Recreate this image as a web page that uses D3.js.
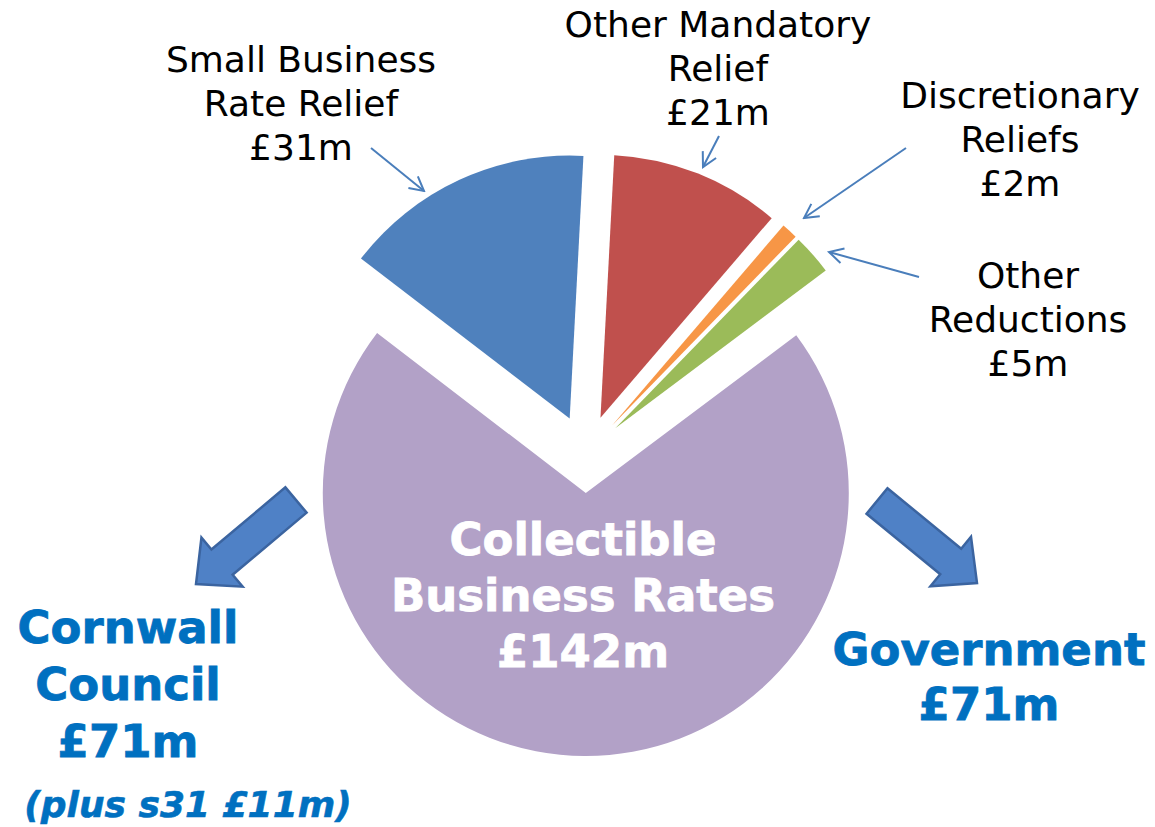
<!DOCTYPE html>
<html>
<head>
<meta charset="utf-8">
<script src="https://cdn.jsdelivr.net/npm/d3@7"></script>
<style>
html,body{margin:0;padding:0;background:#fff;}
svg{display:block;}
</style>
</head>
<body>
<svg id="chart" width="1155" height="827"></svg>
<script>
// ---- data ----
const categories = ["Other Mandatory Relief", "Discretionary Reliefs", "Other Reductions", "Collectible Business Rates", "Small Business Rate Relief"];
const values = [21, 2, 5, 142, 31];
const colors = ["#C0504D", "#F79646", "#9BBB59", "#B2A1C7", "#4F81BD"];
const labelLines = [
  ["Other Mandatory", "Relief", "£21m"],
  ["Discretionary", "Reliefs", "£2m"],
  ["Other", "Reductions", "£5m"],
  ["Collectible", "Business Rates", "£142m"],
  ["Small Business", "Rate Relief", "£31m"]
];
const splitNames = ["Cornwall Council", "Government"];
const splitValues = [71, 71];
const councilNote = "(plus s31 £11m)";

// ---- layout ----
const svg = d3.select("#chart");
const cx = 586, cy = 454, R = 263, explode = 39;
const deg = Math.PI / 180;
const start = 3 * deg;

const pie = d3.pie().sort(null).value(d => d).startAngle(start).endAngle(start + 2 * Math.PI);
const arcs = pie(values);
const arc = d3.arc().innerRadius(0).outerRadius(R);

const g = svg.append("g").attr("transform", `translate(${cx},${cy})`);
g.selectAll("path.slice").data(arcs).join("path")
  .attr("class", "slice")
  .attr("d", arc)
  .attr("fill", (d, i) => colors[i])
  .attr("transform", d => {
    const a = (d.startAngle + d.endAngle) / 2;
    return `translate(${explode * Math.sin(a)},${-explode * Math.cos(a)})`;
  });

// ---- annotation arrow marker ----
const defs = svg.append("defs");
defs.append("marker")
  .attr("id", "open")
  .attr("viewBox", "-16 -9 18 18")
  .attr("refX", 0).attr("refY", 0)
  .attr("markerWidth", 18).attr("markerHeight", 18)
  .attr("markerUnits", "userSpaceOnUse")
  .attr("orient", "auto")
  .append("path")
  .attr("d", "M-14,-7.5L0,0L-14,7.5")
  .attr("fill", "none")
  .attr("stroke", "#4A7EBB")
  .attr("stroke-width", 2);

// label positions (center x, first baseline) and leader lines
const labelPos = [
  {x: 718, y: 37, line: [719, 136, 703, 167]},
  {x: 1020, y: 108, line: [906, 148, 804, 218]},
  {x: 1028, y: 288, line: [919, 277, 829, 252]},
  null,
  {x: 301, y: 72, line: [371, 148, 424, 191]}
];

labelPos.forEach((p, i) => {
  if (!p) return;
  const t = svg.append("text")
    .attr("text-anchor", "middle")
    .attr("font-family", "DejaVu Sans, Verdana, sans-serif")
    .attr("font-size", 36)
    .attr("fill", "#000");
  labelLines[i].forEach((ln, k) => {
    t.append("tspan").attr("x", p.x).attr("y", p.y + k * 44).text(ln);
  });
  svg.append("line")
    .attr("x1", p.line[0]).attr("y1", p.line[1])
    .attr("x2", p.line[2]).attr("y2", p.line[3])
    .attr("stroke", "#4A7EBB").attr("stroke-width", 2)
    .attr("marker-end", "url(#open)");
});

// center label (purple slice)
const ct = svg.append("text")
  .attr("text-anchor", "middle")
  .attr("font-family", "DejaVu Sans, Verdana, sans-serif")
  .attr("font-weight", "bold")
  .attr("font-size", 45)
  .attr("fill", "#fff")
  .attr("stroke", "#fff").attr("stroke-width", 0.8);
labelLines[3].forEach((ln, k) => {
  ct.append("tspan").attr("x", 583).attr("y", 555 + k * 56).text(ln);
});

// ---- block arrows ----
function blockArrow(x0, y0, x1, y1) {
  const dx = x1 - x0, dy = y1 - y0, L = Math.hypot(dx, dy);
  const ux = dx / L, uy = dy / L, nx = -uy, ny = ux;
  const sw = 16.5, hw = 32, hl = 34;
  const pts = [
    [0, -sw], [L - hl, -sw], [L - hl, -hw], [L, 0], [L - hl, hw], [L - hl, sw], [0, sw]
  ].map(([a, b]) => [x0 + ux * a + nx * b, y0 + uy * a + ny * b]);
  svg.append("path")
    .attr("d", "M" + pts.map(p => p.join(",")).join("L") + "Z")
    .attr("fill", "#4F81C6")
    .attr("stroke", "#3B64A0")
    .attr("stroke-width", 2.5)
    .attr("stroke-linejoin", "miter");
}
blockArrow(296, 500, 196, 584);
blockArrow(877, 501, 977, 583);

// ---- split labels ----
const blue = "#0070C0";
function boldLines(lines, x, y, step, size) {
  const t = svg.append("text")
    .attr("text-anchor", "middle")
    .attr("font-family", "DejaVu Sans, Verdana, sans-serif")
    .attr("font-weight", "bold")
    .attr("font-size", size)
    .attr("fill", blue)
    .attr("stroke", blue).attr("stroke-width", 0.8);
  lines.forEach((ln, k) => t.append("tspan").attr("x", x).attr("y", y + k * step).text(ln));
}
boldLines(["Cornwall", "Council", "£" + splitValues[0] + "m"], 128, 643, 57, 45);
boldLines([splitNames[1], "£" + splitValues[1] + "m"], 989, 665, 55, 45);

svg.append("text")
  .attr("x", 188).attr("y", 817)
  .attr("text-anchor", "middle")
  .attr("font-family", "DejaVu Sans, Verdana, sans-serif")
  .attr("font-weight", "bold")
  .attr("font-style", "italic")
  .attr("font-size", 36)
  .attr("fill", blue)
  .attr("stroke", blue).attr("stroke-width", 0.6)
  .text(councilNote);
</script>
</body>
</html>
